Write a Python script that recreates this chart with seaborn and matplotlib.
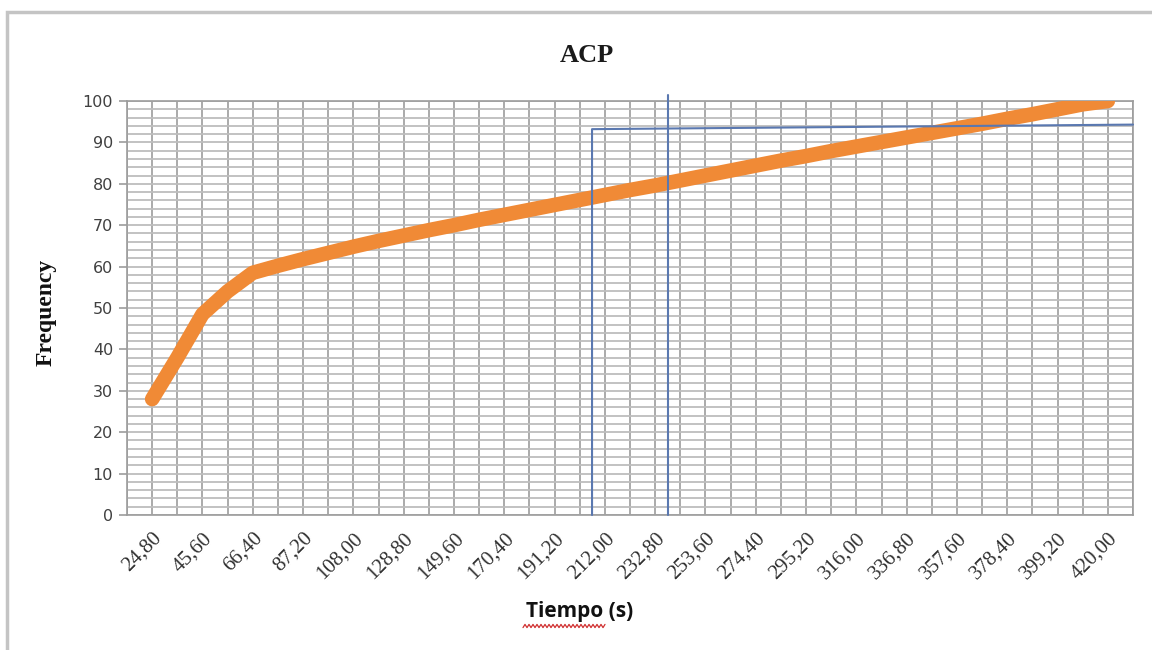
import numpy as np
import pandas as pd
import matplotlib
matplotlib.use("Agg")
import matplotlib.pyplot as plt
from matplotlib.ticker import MultipleLocator, FixedLocator
from matplotlib.patches import Rectangle
from matplotlib.lines import Line2D
import seaborn as sns

# ---- data ----
tiempo = [24.8, 35.2, 45.6, 56.0, 66.4, 76.8, 87.2, 97.6, 108.0, 118.4,
          128.8, 139.2, 149.6, 160.0, 170.4, 180.8, 191.2, 201.6, 212.0, 222.4,
          232.8, 243.2, 253.6, 264.0, 274.4, 284.8, 295.2, 305.6, 316.0, 326.4,
          336.8, 347.2, 357.6, 368.0, 378.4, 388.8, 399.2, 409.6, 420.0]
frequency = [28.0, 38.0, 48.5, 54.0, 58.5, 60.2, 61.8, 63.3, 64.8, 66.2,
             67.5, 68.8, 70.0, 71.3, 72.5, 73.7, 74.9, 76.1, 77.3, 78.5,
             79.6, 80.8, 82.0, 83.2, 84.4, 85.6, 86.7, 87.9, 89.0, 90.1,
             91.2, 92.3, 93.4, 94.5, 95.7, 96.8, 98.0, 99.2, 100.0]
tick_times = [24.8, 45.6, 66.4, 87.2, 108.0, 128.8, 149.6, 170.4, 191.2, 212.0,
              232.8, 253.6, 274.4, 295.2, 316.0, 336.8, 357.6, 378.4, 399.2, 420.0]
tick_labels = ["24,80", "45,60", "66,40", "87,20", "108,00", "128,80", "149,60",
               "170,40", "191,20", "212,00", "232,80", "253,60", "274,40", "295,20",
               "316,00", "336,80", "357,60", "378,40", "399,20", "420,00"]
y_ticks = [0, 10, 20, 30, 40, 50, 60, 70, 80, 90, 100]

# hand-drawn reference lines (time, frequency)
ref1_x = [206.7, 206.7, 430.4]
ref1_y = [0.0, 93.2, 94.3]
ref2_x = [238.2, 238.2]
ref2_y = [0.0, 101.5]

df = pd.DataFrame({"Tiempo": tiempo, "Frequency": frequency})

sns.set_theme(style="white")
plt.rcParams["font.family"] = ["DejaVu Sans"]

fig = plt.figure(figsize=(11.52, 6.5), dpi=100)
W, H = 1152, 650
ax = fig.add_axes([127 / W, 1 - 515 / H, (1133 - 127) / W, (515 - 101) / H])

# grid
ax.set_xlim(14.4, 430.4)
ax.set_ylim(0, 100)
ax.xaxis.set_minor_locator(FixedLocator(tiempo + [14.4, 430.4]))
ax.yaxis.set_minor_locator(MultipleLocator(2))
ax.grid(which="both", axis="x", color="#9c9c9c", lw=1.2)
ax.grid(which="both", axis="y", color="#bdbdbd", lw=1.3)
ax.set_axisbelow(True)

# orange line
sns.lineplot(data=df, x="Tiempo", y="Frequency", ax=ax, color="#F08A36",
             lw=10.5, solid_capstyle="round", solid_joinstyle="round", zorder=3)

# blue reference lines
ax.plot(ref1_x, ref1_y, color="#5a78b0", lw=1.5, zorder=4, clip_on=False)
ax.plot(ref2_x, ref2_y, color="#5a78b0", lw=1.5, zorder=4, clip_on=False)

# ticks
ax.set_xticks(tick_times)
ax.set_xticklabels(tick_labels, rotation=45, ha="right", rotation_mode="anchor",
                   family="Liberation Serif", fontsize=15, color="#303030")
ax.set_yticks(y_ticks)
ax.set_yticklabels([str(v) for v in y_ticks], fontsize=11.5, color="#404040",
                   family="DejaVu Sans")
ax.tick_params(axis="x", which="both", length=0, pad=10)
ax.tick_params(axis="y", which="major", length=6, width=1.2, color="#9c9c9c",
               direction="out", left=True, pad=4)
ax.tick_params(axis="y", which="minor", length=0)

for s in ax.spines.values():
    s.set_color("#9c9c9c")
    s.set_linewidth(1.2)

ax.set_xlabel("")
ax.set_ylabel("")

# titles / labels
fig.text(587 / W, 1 - 55 / H, "ACP", ha="center", va="center",
         family="Liberation Serif", fontweight="bold", fontsize=19, color="#1a1a1a")
fig.text(46 / W, 1 - 312 / H, "Frequency", ha="center", va="center", rotation=90,
         family="Liberation Serif", fontweight="bold", fontsize=17, color="#111111")
fig.text(580 / W, 1 - 611 / H, "Tiempo (s)", ha="center", va="center",
         family="Open Sans", fontweight="bold", fontsize=15, color="#111111")

# red spell-check squiggle under "Tiempo"
sq_x = np.linspace(523, 605, 42)
sq_y = 626 + 1.6 * np.where(np.arange(42) % 2 == 0, 1, -1)
fig.lines.append(Line2D(sq_x / W, 1 - sq_y / H, transform=fig.transFigure,
                        color="#d03030", lw=0.9))

# outer border
fig.patches.append(Rectangle((7 / W, -0.1), 1.2, (1 - 12 / H) + 0.1,
                             transform=fig.transFigure, fill=False,
                             edgecolor="#c4c4c4", lw=2.5))

fig.savefig("out.png", dpi=100)
